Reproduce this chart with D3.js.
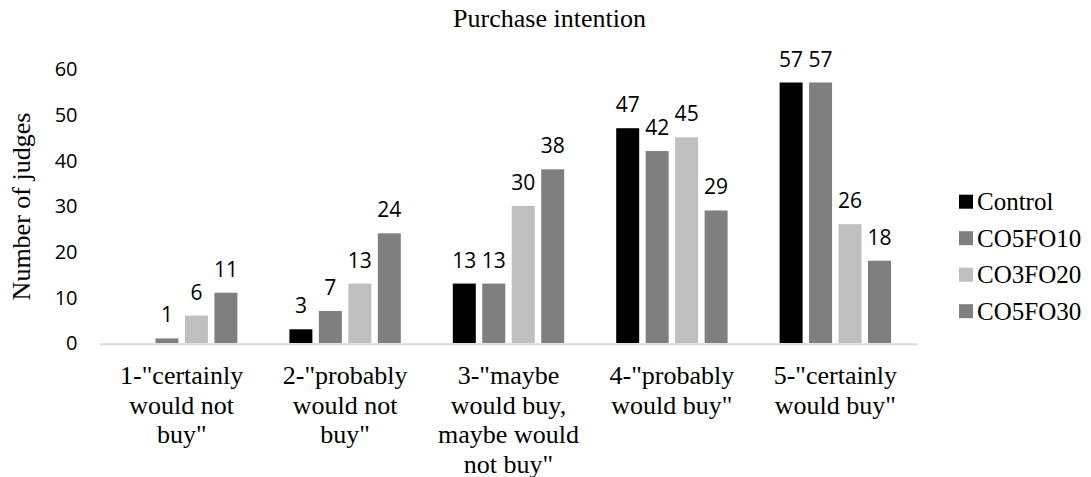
<!DOCTYPE html>
<html>
<head>
<meta charset="utf-8">
<script src="https://cdn.jsdelivr.net/npm/d3@7/dist/d3.min.js"></script>
<style>
  html, body { margin: 0; padding: 0; background: #fff; }
  svg { display: block; }
</style>
</head>
<body>
<svg id="chart" width="1091" height="477"></svg>
<script>
// Purchase intention scores per formulation
const categories = [
  ['1-"certainly', 'would not', 'buy"'],
  ['2-"probably', 'would not', 'buy"'],
  ['3-"maybe', 'would buy,', 'maybe would', 'not buy"'],
  ['4-"probably', 'would buy"'],
  ['5-"certainly', 'would buy"']
];
const seriesNames = ["Control", "CO5FO10", "CO3FO20", "CO5FO30"];
const control = [0, 3, 13, 47, 57];
const co5fo10 = [1, 7, 13, 42, 57];
const co3fo20 = [6, 13, 30, 45, 26];
const co5fo30 = [11, 24, 38, 29, 18];
const yTicks = [0, 10, 20, 30, 40, 50, 60];
const colors = ["#000000", "#7f7f7f", "#bfbfbf", "#7f7f7f"];

const seriesValues = [control, co5fo10, co3fo20, co5fo30];
const serif = "'Liberation Serif', 'Times New Roman', serif";
const sans = "'Open Sans', 'Liberation Sans', sans-serif";

const svg = d3.select("#chart");
const plot = { left: 100, right: 917, top: 68.8, bottom: 343 };

const catIdx = categories.map((d, i) => i);
const x0 = d3.scaleBand().domain(catIdx).range([plot.left, plot.right]).padding(0);
const groupPad = 26;
const x1 = d3.scaleBand().domain(seriesNames)
  .range([groupPad, x0.bandwidth() - groupPad])
  .paddingInner(0.22).paddingOuter(0);
const y = d3.scaleLinear().domain([0, 60]).range([plot.bottom, plot.top]);

// Title
svg.append("text")
  .attr("x", 549.5).attr("y", 27)
  .attr("text-anchor", "middle")
  .style("font-family", serif).style("font-size", "26px").attr("fill", "#000")
  .text("Purchase intention");

// Y axis tick labels (no axis line, no ticks)
const yAxis = d3.axisLeft(y).tickValues(yTicks).tickSize(0).tickPadding(0);
const yg = svg.append("g").attr("transform", `translate(77.5,0.5)`).call(yAxis);
yg.select(".domain").remove();
yg.selectAll("text")
  .style("font-family", sans).style("font-size", "20px").attr("fill", "#000");

// Y axis title
svg.append("text")
  .attr("transform", `translate(30,206.5) rotate(-90)`)
  .attr("text-anchor", "middle")
  .style("font-family", serif).style("font-size", "26px").attr("fill", "#000")
  .text("Number of judges");

// Bars
const groups = svg.append("g").selectAll("g")
  .data(catIdx).join("g")
  .attr("transform", i => `translate(${x0(i)},0)`);

groups.selectAll("rect")
  .data(i => seriesNames.map((s, k) => ({ s, k, v: seriesValues[k][i] })))
  .join("rect")
  .attr("x", d => x1(d.s))
  .attr("width", x1.bandwidth())
  .attr("y", d => y(d.v))
  .attr("height", d => y(0) - y(d.v))
  .attr("fill", d => colors[d.k]);

// Value labels (zero values carry no label)
groups.selectAll("text.val")
  .data(i => seriesNames.map((s, k) => ({ s, k, v: seriesValues[k][i] })).filter(d => d.v > 0))
  .join("text")
  .attr("class", "val")
  .attr("x", d => x1(d.s) + x1.bandwidth() / 2)
  .attr("y", d => y(d.v) - 16)
  .attr("text-anchor", "middle")
  .style("font-family", sans).style("font-size", "21px").attr("fill", "#000")
  .text(d => d.v);

// Category axis line
svg.append("line")
  .attr("x1", plot.left).attr("x2", plot.right)
  .attr("y1", y(0) + 1.2).attr("y2", y(0) + 1.2)
  .attr("stroke", "#d9d9d9").attr("stroke-width", 2);

// Category labels
const catLabels = svg.append("g").selectAll("text")
  .data(catIdx).join("text")
  .attr("x", i => x0(i) + x0.bandwidth() / 2)
  .attr("y", 384)
  .attr("text-anchor", "middle")
  .style("font-family", serif).style("font-size", "26px").attr("fill", "#000");
catLabels.selectAll("tspan")
  .data(i => categories[i]).join("tspan")
  .attr("x", function () { return d3.select(this.parentNode).attr("x"); })
  .attr("dy", (d, j) => j === 0 ? 0 : 29.5)
  .text(d => d);

// Legend
const legend = svg.append("g").selectAll("g")
  .data(seriesNames).join("g")
  .attr("transform", (d, k) => `translate(959,${201.7 + k * 36.5})`);
legend.append("rect")
  .attr("x", 0).attr("y", -7).attr("width", 14).attr("height", 14)
  .attr("fill", (d, k) => colors[k]);
legend.append("text")
  .attr("x", 18).attr("y", 8.5)
  .style("font-family", serif).style("font-size", "25px").attr("fill", "#000")
  .text(d => d);
</script>
</body>
</html>
